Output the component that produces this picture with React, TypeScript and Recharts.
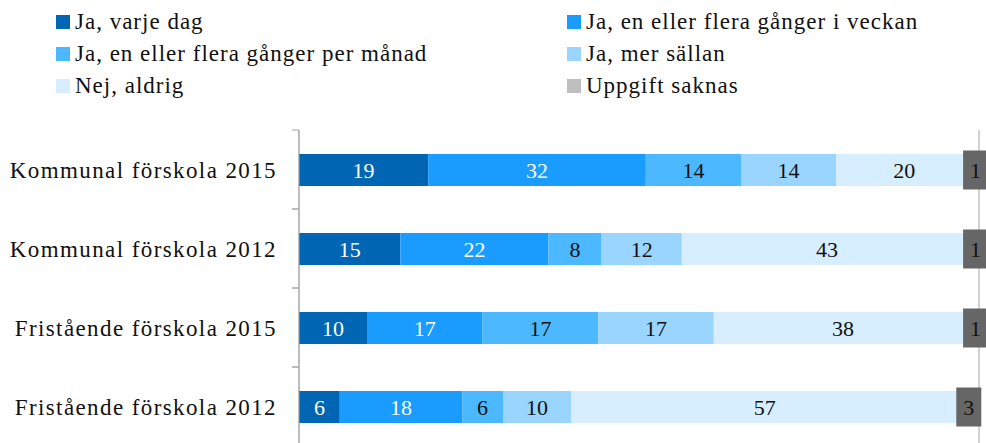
import React from 'react';
import { BarChart, Bar, XAxis, YAxis, CartesianGrid, LabelList } from 'recharts';

const categories = [
  'Kommunal förskola 2015',
  'Kommunal förskola 2012',
  'Fristående förskola 2015',
  'Fristående förskola 2012',
];
const varjeDag = [19, 14.9, 10, 6];
const veckan = [32, 21.8, 17, 18];
const manad = [14, 7.8, 17, 6];
const sallan = [14, 11.8, 17, 10];
const aldrig = [20, 42.7, 38, 57];
const saknas = [1, 1, 1, 3];

const seriesNames = [
  'Ja, varje dag',
  'Ja, en eller flera gånger i veckan',
  'Ja, en eller flera gånger per månad',
  'Ja, mer sällan',
  'Nej, aldrig',
  'Uppgift saknas',
];
const seriesKeys = ['varje', 'veckan', 'manad', 'sallan', 'aldrig', 'saknas'];
const seriesColors = ['#0066b3', '#1a9cff', '#4cb8ff', '#99d5ff', '#d6eeff', '#bfbfbf'];
const labelColors = ['#ffffff', '#ffffff', '#111111', '#111111', '#111111', '#111111'];
const xTicks = [0, 20, 40, 60, 80, 100];

const data = categories.map((name, i) => ({
  name,
  varje: varjeDag[i],
  veckan: veckan[i],
  manad: manad[i],
  sallan: sallan[i],
  aldrig: aldrig[i],
  saknas: saknas[i],
}));

const FONT = "'Liberation Serif', 'Times New Roman', serif";
const GRID = '#a6a6a6';
const TICK_SIZE = 6;
const TICK_MARGIN = 16;
const EDGE_TICK = 7;

const legendOrder = [
  [0, 1],
  [2, 3],
  [4, 5],
];

const SaknasLabel = (props: any) => {
  const { x, y, width, height, value } = props;
  const cx = Number(x) + Number(width) / 2;
  const cy = Number(y) + Number(height) / 2;
  const text = String(Math.round(Number(value)));
  const w = text.length > 1 ? 36 : 25;
  const h = 39;
  return (
    <g>
      <rect x={cx - w / 2} y={cy - h / 2} width={w} height={h} fill="#666666" />
      <text x={cx} y={cy} dy="0.355em" textAnchor="middle" fontSize={22} fontFamily={FONT} fill="#111111">
        {text}
      </text>
    </g>
  );
};

// category label plus tick marks on the band edges (Excel style)
const CategoryTick = (props: any) => {
  const { x, y, payload } = props;
  const axisX = Number(x) + TICK_SIZE + TICK_MARGIN;
  const half = payload && typeof payload.offset === 'number' ? payload.offset : 0;
  return (
    <g>
      {half > 0 && (
        <>
          <line x1={axisX - EDGE_TICK} x2={axisX} y1={y - half} y2={y - half} stroke={GRID} strokeWidth={1} />
          <line x1={axisX - EDGE_TICK} x2={axisX} y1={y + half} y2={y + half} stroke={GRID} strokeWidth={1} />
        </>
      )}
      <text
        x={x}
        y={y}
        dy="0.355em"
        textAnchor="end"
        fontSize={23}
        fontFamily={FONT}
        letterSpacing={1.4}
        fill="#111111"
      >
        {payload.value}
      </text>
    </g>
  );
};

const LegendSvg = () => (
  <svg width={986} height={110} style={{ position: 'absolute', left: 0, top: 0 }}>
    {legendOrder.map((row, r) =>
      row.map((si, c) => {
        const x0 = c === 0 ? 56 : 567;
        const base = 29 + r * 32;
        return (
          <g key={si}>
            <rect x={x0} y={base - 14} width={14} height={14} fill={seriesColors[si]} />
            <text
              x={x0 + 19}
              y={base}
              fontFamily={FONT}
              fontSize={23}
              letterSpacing={1}
              fill="#111111"
            >
              {seriesNames[si]}
            </text>
          </g>
        );
      })
    )}
  </svg>
);

export default function App() {
  return (
    <div style={{ position: 'fixed', left: 0, top: 0, width: 986, height: 443, overflow: 'hidden', background: '#fff' }}>
      <LegendSvg />
      <div style={{ position: 'absolute', left: 0, top: 0 }}>
        <BarChart
          width={986}
          height={450}
          data={data}
          layout="vertical"
          margin={{ top: 130, right: 7, bottom: 4, left: 0 }}
        >
          <CartesianGrid horizontal={false} vertical stroke={GRID} strokeWidth={1} />
          <XAxis
            type="number"
            domain={[0, 100]}
            ticks={xTicks}
            height={0}
            tick={false}
            tickLine={false}
            axisLine={false}
            allowDataOverflow
          />
          <YAxis
            type="category"
            dataKey="name"
            width={299}
            axisLine={{ stroke: GRID }}
            tickLine={false}
            tickSize={TICK_SIZE}
            tickMargin={TICK_MARGIN}
            tick={CategoryTick}
          />
          {seriesKeys.map((k, i) => (
            <Bar
              key={k}
              dataKey={k}
              name={seriesNames[i]}
              stackId="a"
              fill={seriesColors[i]}
              barSize={32}
              isAnimationActive={false}
            >
              {k === 'saknas' ? (
                <LabelList dataKey={k} content={SaknasLabel} />
              ) : (
                <LabelList
                  dataKey={k}
                  position="center"
                  formatter={(v: any) => String(Math.round(Number(v)))}
                  fontSize={22}
                  fontFamily={FONT}
                  fill={labelColors[i]}
                />
              )}
            </Bar>
          ))}
        </BarChart>
      </div>
    </div>
  );
}
